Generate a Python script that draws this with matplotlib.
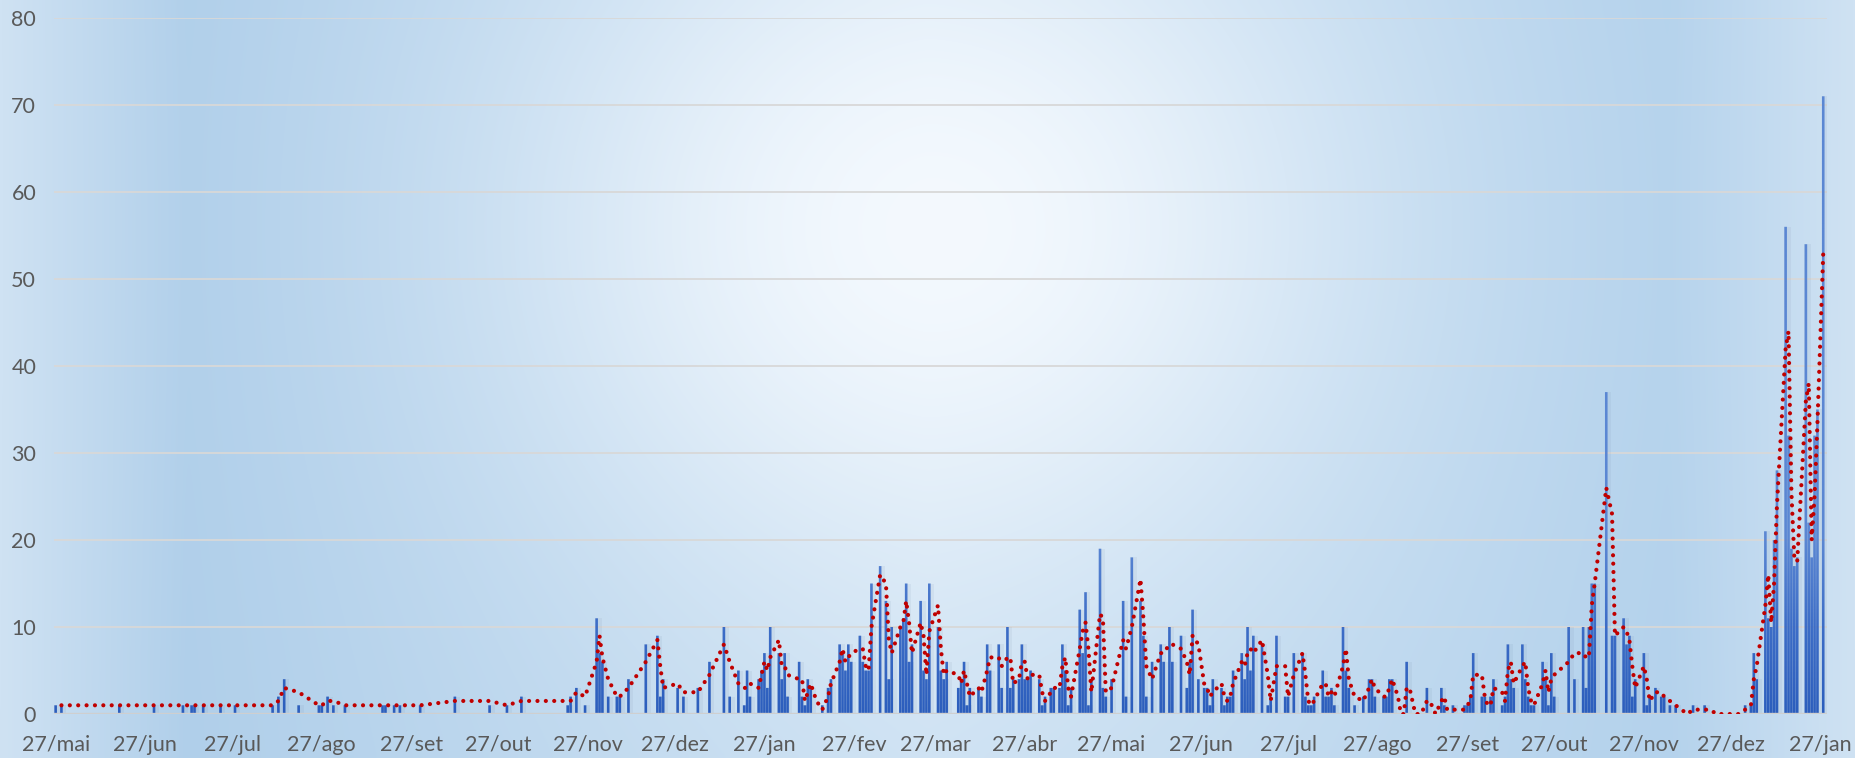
import numpy as np
import pandas as pd
import matplotlib
matplotlib.use("Agg")
import matplotlib.pyplot as plt
from matplotlib.path import Path
from matplotlib.patches import PathPatch
from matplotlib.colors import LinearSegmentedColormap

# ---------------- data ----------------
START_DATE = "2020-05-27"   # day offset 0
# day offsets (days since START_DATE) of the days that have a value
day_offset = [
    0, 2, 22, 34, 44, 47, 48, 51, 57, 62, 75, 77, 79, 84, 91, 92, 94, 96, 100,
    113, 114, 117, 119, 126, 138, 150, 156, 161,
    177, 178, 180, 183, 187, 188, 189, 191, 194, 195, 198, 204, 208, 209, 210,
    215, 217, 222, 226, 231, 233, 236, 238, 239, 240, 243, 244, 245, 246, 247,
    250, 251, 252, 253, 257, 258, 259, 260, 261, 263, 265, 267, 268, 271, 272,
    273, 274, 275, 278, 279, 280, 281, 282, 285,
    287, 288, 289, 292, 293, 294, 295, 296, 299, 300, 301, 302, 305, 306, 307,
    308, 312, 313, 314, 315, 316, 319, 320, 322, 323, 326, 327, 329, 330, 331,
    333, 334, 335, 336, 337, 340, 341, 342, 344, 345, 347, 348, 349, 350, 351,
    354, 355, 356, 357, 358, 361, 362, 363, 365, 369, 370, 372, 375, 376, 377,
    379, 382, 383, 385, 386, 389, 391, 392, 393,
    395, 397, 398, 399, 400, 403, 404, 405, 406, 407, 410, 411, 412, 413, 414,
    417, 419, 420, 422, 425, 426, 428, 431, 432, 433, 434, 435, 438, 439, 440,
    441, 442, 445, 446, 447, 449, 452, 454, 455, 456, 459, 460, 461, 462, 464,
    465, 466, 467, 468, 470, 472, 474, 475, 477, 479, 480, 481, 483, 485, 487,
    488, 489, 490, 493, 494, 495, 496, 497, 500, 501, 502,
    503, 504, 507, 508, 509, 510, 511, 514, 515, 516, 517, 518, 523, 525, 528,
    529, 530, 531, 532, 536, 538, 539, 542, 543, 544, 545, 546, 549, 550, 551,
    553, 555, 556, 558, 560, 562, 564, 566, 568, 570, 572, 574, 577, 580, 582,
    584, 586, 587, 588, 591, 592, 593, 594, 595, 598, 599, 600, 601, 602, 605,
    606, 607, 608, 609, 611,
]
count = [
    1, 1, 1, 1, 1, 1, 1, 1, 1, 1, 1, 2, 4, 1, 1, 1, 2, 1, 1,
    1, 1, 1, 1, 1, 2, 1, 1, 2,
    1, 2, 3, 1, 11, 7, 6, 2, 2, 2, 4, 8, 9, 2, 4,
    3, 2, 3, 6, 10, 2, 5, 1, 5, 2, 4, 5, 7, 3, 10,
    7, 4, 7, 2, 6, 2, 1, 4, 3, 0, 1, 3, 4, 8, 7,
    5, 8, 6, 9, 6, 5, 5, 15, 17,
    13, 4, 10, 10, 11, 15, 6, 8, 13, 5, 4, 15, 10, 5, 4,
    6, 3, 4, 6, 1, 3, 3, 2, 8, 5, 8, 3, 10, 3, 4,
    4, 8, 4, 4, 5, 4, 1, 2, 3, 3, 3, 8, 5, 1, 3,
    12, 7, 14, 1, 4, 19, 3, 2, 4, 13, 2, 18, 13, 9, 2,
    6, 8, 6, 10, 6, 9, 3, 6, 12,
    4, 3, 3, 1, 4, 3, 1, 2, 2, 5, 7, 4, 10, 5, 9,
    8, 1, 2, 9, 2, 2, 7, 7, 2, 1, 1, 2, 5, 2, 2,
    3, 1, 10, 5, 3, 1, 2, 4, 4, 2, 2, 2, 4, 4, 0,
    0, 0, 6, 0, 0, 0, 3, 0, 0, 3, 1, 0, 1, 0, 1,
    1, 2, 7, 2, 2, 0, 2, 4, 1, 2, 8,
    4, 3, 8, 4, 2, 1, 1, 6, 4, 1, 7, 2, 10, 4, 10,
    3, 10, 15, 15, 37, 9, 9, 11, 8, 9, 2, 4, 7, 1, 2,
    3, 2, 2, 1, 1, 0, 0, 1, 0, 1, 0, 0, 0, 0, 0,
    1, 1, 7, 4, 21, 11, 10, 20, 28, 56, 32, 19, 17, 18, 54,
    22, 18, 32, 35, 71,
]
tick_labels = ["27/mai", "27/jun", "27/jul", "27/ago", "27/set", "27/out",
               "27/nov", "27/dez", "27/jan", "27/fev", "27/mar", "27/abr",
               "27/mai", "27/jun", "27/jul", "27/ago", "27/set", "27/out",
               "27/nov", "27/dez", "27/jan"]
tick_dates = ["2020-05-27", "2020-06-27", "2020-07-27", "2020-08-27",
              "2020-09-27", "2020-10-27", "2020-11-27", "2020-12-27",
              "2021-01-27", "2021-02-27", "2021-03-27", "2021-04-27",
              "2021-05-27", "2021-06-27", "2021-07-27", "2021-08-27",
              "2021-09-27", "2021-10-27", "2021-11-27", "2021-12-27",
              "2022-01-27"]
y_ticks = [0, 10, 20, 30, 40, 50, 60, 70, 80]

# ---------------- figure ----------------
W, H, DPI = 1856, 758, 100
fig = plt.figure(figsize=(W / DPI, H / DPI), dpi=DPI)

# background gradient (whole chart area)
bg = fig.add_axes([0, 0, 1, 1], zorder=-10)
bg.set_axis_off()
nx, ny = 464, 190
xs = np.linspace(0, 1, nx)
ys = np.linspace(0, 1, ny)  # 0 = top
stops_x = [0.0, 0.10, 0.5, 0.90, 1.0]
stops_c = np.array([[207, 226, 243], [176, 207, 234], [203, 224, 242],
                    [180, 210, 236], [207, 226, 243]]) / 255.0
base = np.stack([np.interp(xs, stops_x, stops_c[:, k]) for k in range(3)], axis=-1)
X, Y = np.meshgrid(xs, ys)
glow = np.exp(-(((X - 0.505) / 0.22) ** 2 + ((Y - 0.30) / 0.48) ** 2)) * 0.92
img = base[None, :, :] * (1 - glow[..., None]) + np.array([0.97, 0.985, 1.0]) * glow[..., None]
bg.imshow(img, extent=[0, 1, 0, 1], aspect="auto", interpolation="bicubic")
bg.set_xlim(0, 1)
bg.set_ylim(0, 1)

ax = fig.add_axes([54.2 / W, 1 - 714 / H, (1827 - 54.2) / W, (714 - 18) / H])
ax.set_facecolor("none")
for s in ax.spines.values():
    s.set_visible(False)

start = np.datetime64(START_DATE)
tick_pos = [(np.datetime64(d) - start).astype(int) for d in tick_dates]

x = np.array(day_offset, dtype=float)
v = np.array(count, dtype=float)

# gridlines
for yv in y_ticks[1:]:
    ax.axhline(yv, color="#d8d8d8", lw=1.3, zorder=1)
ax.axhline(0, color="#cfcfcf", lw=2.4, zorder=3)

# bars: shape path filled with a vertical gradient
bw = 0.9
verts, codes = [], []
for xi, hi in zip(x, v):
    if hi <= 0:
        continue
    verts += [(xi - bw / 2, 0), (xi + bw / 2, 0), (xi + bw / 2, hi), (xi - bw / 2, hi), (0, 0)]
    codes += [Path.MOVETO, Path.LINETO, Path.LINETO, Path.LINETO, Path.CLOSEPOLY]
bar_path = Path(verts, codes)

# soft shadow
for xi, hi in zip(x, v):
    if hi <= 0:
        continue
    ax.bar(xi + 0.6, hi, width=2.2, color="#56698a", alpha=0.07, lw=0, zorder=1.5)

patch = PathPatch(bar_path, transform=ax.transData, facecolor="none", edgecolor="none")
ax.add_patch(patch)
cmap = LinearSegmentedColormap.from_list("bars", ["#2c5ebd", "#3d6dc7", "#5b87d3"])
grad = np.linspace(0, 1, 256).reshape(-1, 1)
grad = np.clip(grad * 80 / 20, 0, 1)
im = ax.imshow(grad, extent=[-0.5, 612.3, 0, 80], origin="lower", aspect="auto",
               cmap=cmap, vmin=0, vmax=1, zorder=2, interpolation="bilinear")
im.set_clip_path(patch)

# 2-period moving average trendline over the points that have a value
ma = pd.Series(v).rolling(2).mean().to_numpy()
ax.plot(x[1:], ma[1:], color="#c00000", lw=3.0, linestyle=(0, (0.01, 2.0)),
        dash_capstyle="round", zorder=4)

ax.set_xlim(-0.5, 612.3)
ax.set_ylim(0, 80)
ax.set_xticks(tick_pos)
ax.set_xticklabels(tick_labels)
ax.set_yticks(y_ticks)
ax.set_yticklabels([str(t) for t in y_ticks])
ax.tick_params(axis="both", length=0, colors="#595959", labelsize=15.5)
ax.tick_params(axis="x", pad=15)
ax.tick_params(axis="y", pad=13)
for lab in ax.get_xticklabels() + ax.get_yticklabels():
    lab.set_family(["Lato", "DejaVu Sans"])

fig.savefig("out.png", dpi=DPI)
